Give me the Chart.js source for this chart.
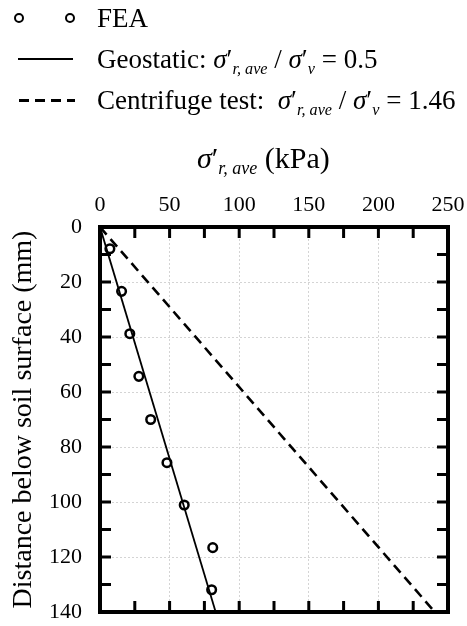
<!DOCTYPE html>
<html>
<head>
<meta charset="utf-8">
<script src="https://cdn.jsdelivr.net/npm/chart.js@4/dist/chart.umd.min.js"></script>
<style>
  body { margin: 0; background: #fff; font-family: "Liberation Serif", serif; }
  #wrap { position: relative; width: 467px; height: 626px; }
  #chart { position: absolute; left: 0; top: 0; }
  .row { position: absolute; left: 0; height: 30px; font-size: 27px; line-height: 30px; white-space: nowrap; }
  .row .txt { position: absolute; left: 97px; top: 0; }
  .dot { position: absolute; width: 6px; height: 6px; border: 2.5px solid #000; border-radius: 50%; top: 10px; }
  .solid { position: absolute; left: 18px; width: 55px; top: 14px; border-top: 2px solid #000; }
  .dash { position: absolute; left: 19px; width: 56px; top: 14px; height: 3px;
          background: repeating-linear-gradient(to right, #000 0 10px, transparent 10px 16px); }
  sub { font-size: 60%; vertical-align: -0.35em; line-height: 0; }
  #xtitle { position: absolute; left: 197px; top: 141px; font-size: 30px; white-space: nowrap; }
</style>
</head>
<body>
<div id="wrap">
  <canvas id="chart" width="467" height="626"></canvas>
  <div class="row" style="top:3px"><span class="dot" style="left:14px"></span><span class="dot" style="left:65px"></span><span class="txt">FEA</span></div>
  <div class="row" style="top:44px"><span class="solid"></span><span class="txt">Geostatic: <i>σ</i>′<sub><i>r, ave</i></sub> / <i>σ</i>′<sub><i>v</i></sub> = 0.5</span></div>
  <div class="row" style="top:85px"><span class="dash"></span><span class="txt">Centrifuge test:&nbsp; <i>σ</i>′<sub><i>r, ave</i></sub> / <i>σ</i>′<sub><i>v</i></sub> = 1.46</span></div>
  <div id="xtitle"><i>σ</i>′<sub><i>r, ave</i></sub> (kPa)</div>
</div>
<script>
// FEA results
const feaDepth = [7.9, 23.4, 38.8, 54.3, 70.0, 85.7, 101.1, 116.6, 131.9];
const feaStress = [7.1, 15.5, 21.4, 27.9, 36.4, 48.1, 60.5, 81.0, 80.2];
// reference lines, end points
const geoDepth = [0, 140];
const geoStress = [0, 83.1];
const cfDepth = [0, 140];
const cfStress = [0, 240.5];

const xTicks = [0, 50, 100, 150, 200, 250];
const yTicks = [0, 20, 40, 60, 80, 100, 120, 140];

function pts(xs, ys) {
    return xs.map((x, i) => ({ x: x, y: ys[i] }));
}

// box around the plot with inward tick marks on every side
const frame = {
    id: 'frame',
    afterDraw(chart) {
        const { ctx, chartArea: a, scales } = chart;
        ctx.save();
        ctx.strokeStyle = '#000';
        ctx.lineWidth = 3;
        for (let v = 0; v <= 250; v += 25) {
            const px = scales.x.getPixelForValue(v);
            ctx.beginPath();
            ctx.moveTo(px, a.top); ctx.lineTo(px, a.top + 11);
            ctx.moveTo(px, a.bottom); ctx.lineTo(px, a.bottom - 11);
            ctx.stroke();
        }
        for (let v = 0; v <= 140; v += 10) {
            const py = scales.y.getPixelForValue(v);
            ctx.beginPath();
            ctx.moveTo(a.left, py); ctx.lineTo(a.left + 11, py);
            ctx.moveTo(a.right, py); ctx.lineTo(a.right - 11, py);
            ctx.stroke();
        }
        ctx.lineWidth = 4;
        ctx.strokeRect(a.left, a.top, a.right - a.left, a.bottom - a.top);
        ctx.restore();
    }
};

new Chart(document.getElementById('chart'), {
    type: 'scatter',
    data: {
        datasets: [
            {
                label: 'FEA',
                data: pts(feaStress, feaDepth),
                borderColor: '#000',
                backgroundColor: 'rgba(0,0,0,0)',
                borderWidth: 2.5,
                pointRadius: 4.3,
                showLine: false
            },
            {
                label: 'Geostatic',
                data: pts(geoStress, geoDepth),
                borderColor: '#000',
                borderWidth: 1.8,
                pointRadius: 0,
                showLine: true
            },
            {
                label: 'Centrifuge test',
                data: pts(cfStress, cfDepth),
                borderColor: '#000',
                borderWidth: 2.6,
                borderDash: [10, 6],
                pointRadius: 0,
                showLine: true
            }
        ]
    },
    options: {
        responsive: false,
        animation: false,
        layout: { padding: { top: 180, right: 19, bottom: 14, left: 0 } },
        scales: {
            x: {
                type: 'linear',
                position: 'top',
                min: 0,
                max: 250,
                afterFit: s => { s.height = 47; s.paddingLeft = 0; s.paddingRight = 0; },
                afterBuildTicks: s => { s.ticks = xTicks.map(v => ({ value: v })); },
                ticks: {
                    padding: 9,
                    color: '#000',
                    font: { family: 'Liberation Serif', size: 22 }
                },
                grid: { color: '#d4d4d4', lineWidth: 1, drawTicks: false },
                border: { display: false, dash: [2, 2] }
            },
            y: {
                type: 'linear',
                reverse: true,
                min: 0,
                max: 140,
                afterFit: s => { s.width = 100; s.paddingTop = 0; s.paddingBottom = 0; },
                afterBuildTicks: s => { s.ticks = yTicks.map(v => ({ value: v })); },
                ticks: {
                    padding: 18,
                    color: '#000',
                    font: { family: 'Liberation Serif', size: 22 }
                },
                grid: { color: '#d4d4d4', lineWidth: 1, drawTicks: false },
                border: { display: false, dash: [2, 2] },
                title: {
                    display: true,
                    text: 'Distance below soil surface (mm)',
                    color: '#000',
                    font: { family: 'Liberation Serif', size: 28 },
                    padding: { top: 7, bottom: 0 }
                }
            }
        },
        plugins: {
            legend: { display: false },
            tooltip: { enabled: false }
        }
    },
    plugins: [frame]
});
</script>
</body>
</html>
